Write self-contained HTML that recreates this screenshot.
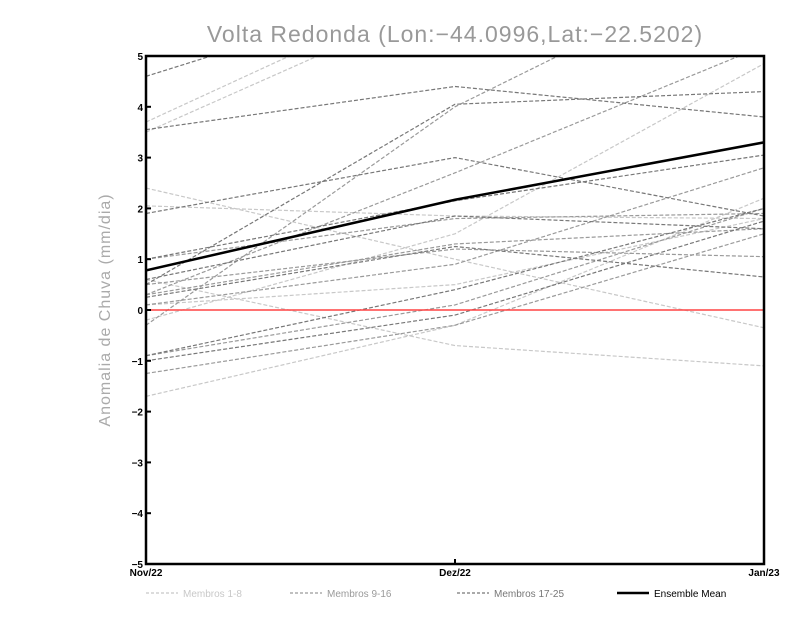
<!DOCTYPE html>
<html><head><meta charset="utf-8"><style>
body{margin:0;background:#fff;}
svg text{font-family:"Liberation Sans",sans-serif;}
</style></head><body>
<svg id="chart" width="800" height="618" xmlns="http://www.w3.org/2000/svg">
<defs><clipPath id="pc"><rect x="146" y="56" width="618" height="508"/></clipPath></defs>
<text x="455" y="42" text-anchor="middle" font-size="23" fill="#999" letter-spacing="1">Volta Redonda (Lon:−44.0996,Lat:−22.5202)</text>
<text transform="translate(110,310) rotate(-90)" text-anchor="middle" font-size="16" fill="#aaa" letter-spacing="1">Anomalia de Chuva (mm/dia)</text>
<g id="series" clip-path="url(#pc)"></g>
<g id="axes"></g>
<g id="legend"></g>
</svg>
<script>
const categories=["Nov/22","Dez/22","Jan/23"];
const yTicks=[-5,-4,-3,-2,-1,0,1,2,3,4,5];
const light=[[3.7,6.5,9],[3.5,6.2,8.5],[2.4,1.0,-0.35],[2.05,1.85,1.8],[0.6,-0.7,-1.1],[-1.7,-0.3,2.2],[-0.2,1.5,4.85],[0.1,0.5,1.8]];
const mid=[[-0.3,4.0,7],[0.3,2.7,5.2],[0.3,1.3,1.6],[-0.9,0.1,2.0],[-1.25,-0.3,1.5],[0.1,0.9,2.8],[0.5,1.2,1.05],[1.0,1.8,1.9]];
const dark=[[4.6,6.5,8],[3.55,4.4,3.8],[1.9,3.0,1.85],[0.5,4.05,4.3],[1.0,2.15,3.05],[0.6,1.85,1.6],[0.25,1.25,0.65],[-0.9,0.4,2.0],[-1.0,-0.1,1.75]];
const ensembleMean=[0.78,2.17,3.3];
const NS="http://www.w3.org/2000/svg";
const X0=146,X1=764,Y0=564,Y1=56;
const xs=i=>X0+(X1-X0)*i/(categories.length-1);
const ys=v=>Y0-(v-(-5))/10*(Y0-Y1);
function mk(t,a,p){const e=document.createElementNS(NS,t);for(const k in a)e.setAttribute(k,a[k]);p.appendChild(e);return e;}
const sg=document.getElementById('series');
function drawGroup(arr,col,name){arr.forEach((s,j)=>{
 const p=mk('polyline',{points:s.map((v,i)=>xs(i)+','+ys(v)).join(' '),fill:'none',stroke:col,'stroke-width':1.2,'stroke-dasharray':'4,2'},sg);
 
 });}
drawGroup(light,'#c8c8c8','member-light');
drawGroup(mid,'#9a9a9a','member-mid');
drawGroup(dark,'#777','member-dark');
const zl=mk('line',{x1:X0,x2:X1,y1:ys(0),y2:ys(0),stroke:'#f44','stroke-width':1.5},sg);


const em=mk('polyline',{points:ensembleMean.map((v,i)=>xs(i)+','+ys(v)).join(' '),fill:'none',stroke:'#000','stroke-width':2.5},sg);


const ax=document.getElementById('axes');
const fr=mk('rect',{x:X0,y:Y1,width:X1-X0,height:Y0-Y1,fill:'none',stroke:'#000','stroke-width':2.5},ax);


yTicks.forEach(v=>{mk('line',{x1:X0,x2:X0+5,y1:ys(v),y2:ys(v),stroke:'#000','stroke-width':2},ax);
 const t=mk('text',{x:X0-3,y:ys(v)+4,'text-anchor':'end','font-size':10,'font-weight':'bold'},ax);t.textContent=(v<0?'−'+(-v):v);
 
 });
categories.forEach((c,i)=>{mk('line',{x1:xs(i),x2:xs(i),y1:Y0,y2:Y0-5,stroke:'#000','stroke-width':2},ax);
 const t=mk('text',{x:xs(i),y:Y0+12,'text-anchor':'middle','font-size':10,'font-weight':'bold'},ax);t.textContent=c;
 
 });
const lg=document.getElementById('legend');
[["Membros 1-8",'#c8c8c8',146,1.2,true],["Membros 9-16",'#9a9a9a',290,1.2,true],["Membros 17-25",'#777',457,1.2,true],["Ensemble Mean",'#000',617,2.5,false]].forEach(([n,c,x,w,d])=>{
 const g=mk('g',{},lg);
 
 
 const a={x1:x,x2:x+32,y1:593,y2:593,stroke:c,'stroke-width':w};if(d)a['stroke-dasharray']='3,2';mk('line',a,g);
 const t=mk('text',{x:x+37,y:597,'font-size':10,fill:d?c:'#000'},g);t.textContent=n;});
</script>
</body></html>
